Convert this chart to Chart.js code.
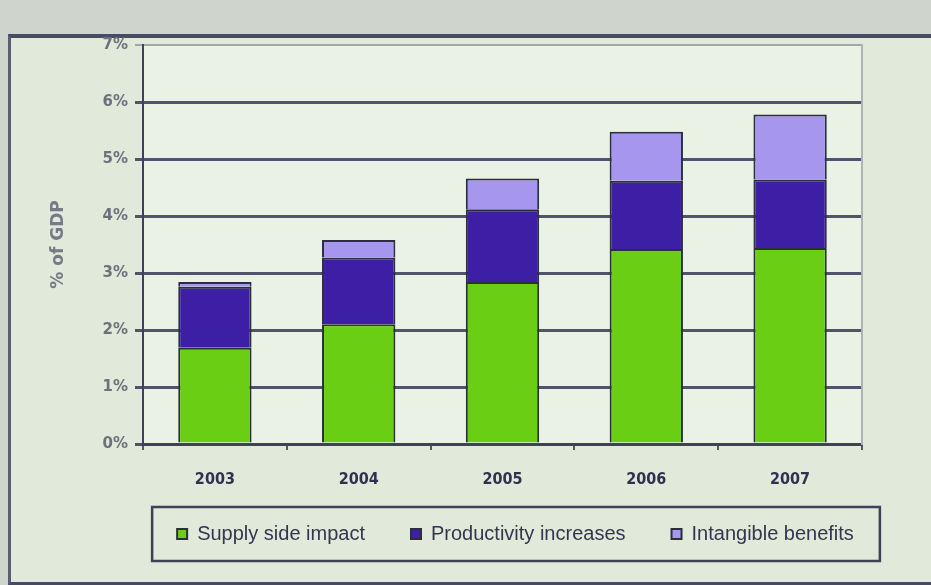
<!DOCTYPE html>
<html>
<head>
<meta charset="utf-8">
<script src="https://cdn.jsdelivr.net/npm/chart.js@4.4.1/dist/chart.umd.min.js"></script>
<style>
  html, body { margin: 0; padding: 0; }
  body { width: 931px; height: 585px; background: #cfd4cc; position: relative; overflow: hidden; }
  #frame { position: absolute; left: 8px; top: 34px; width: 940px; height: 544px;
           border-top: 4px solid #4b4a66; border-left: 3px solid #5a5c70; border-bottom: 3px solid #4b4a66;
           background: #e0e9da; }
  #wrap { position: absolute; left: 0; top: 0; width: 931px; height: 585px; }
</style>
</head>
<body>
<div id="frame"></div>
<div id="wrap"><canvas id="grafico" width="931" height="585"></canvas></div>
<script>
// datos (% del PIB)
const anios = ["2003", "2004", "2005", "2006", "2007"];
const supplySide = [1.69, 2.1, 2.84, 3.42, 3.44];
const productividad = [1.07, 1.17, 1.28, 1.2, 1.2];
const intangibles = [0.08, 0.31, 0.54, 0.86, 1.14];
const nombres = ["Supply side impact", "Productivity increases", "Intangible benefits"];
const ticksY = [0, 1, 2, 3, 4, 5, 6, 7];

const colores = ["#6acf14", "#3d1fa6", "#a796ee"];

// fondo del área de trazado y marco de la leyenda
const decoracion = {
  id: 'decoracion',
  beforeDraw(chart) {
    const { ctx, chartArea } = chart;
    // que las etiquetas del eje x no se recorten por la altura fija
    chart.scales.x._computeLabelArea = () => undefined;
    ctx.save();
    ctx.fillStyle = '#e9f2e4';
    ctx.fillRect(chartArea.left, chartArea.top, chartArea.right - chartArea.left, chartArea.bottom - chartArea.top);
    ctx.restore();
  },
  afterDraw(chart) {
    const cajas = chart.legend.legendHitBoxes;
    if (!cajas || !cajas.length) return;
    const izq = Math.min(...cajas.map(c => c.left)) - 25;
    const der = Math.max(...cajas.map(c => c.left + c.width)) + 26;
    const arr = Math.min(...cajas.map(c => c.top)) - 17;
    const abj = Math.max(...cajas.map(c => c.top + c.height)) + 17;
    const ctx = chart.ctx;
    ctx.save();
    ctx.strokeStyle = '#3e4158';
    ctx.lineWidth = 2.5;
    ctx.strokeRect(izq, arr, der - izq, abj - arr);
    ctx.restore();
  }
};

const ctx = document.getElementById('grafico').getContext('2d');
new Chart(ctx, {
  type: 'bar',
  data: {
    labels: anios,
    datasets: [supplySide, productividad, intangibles].map((serie, i) => ({
      label: nombres[i],
      data: serie,
      backgroundColor: colores[i],
      borderColor: '#2a2f3a',
      borderWidth: 2,
      barPercentage: 0.51,
      categoryPercentage: 1
    }))
  },
  options: {
    responsive: false,
    animation: false,
    devicePixelRatio: 1,
    layout: { padding: { left: 100, right: 0, top: 45, bottom: 31 } },
    scales: {
      x: {
        stacked: true,
        grid: { display: true, drawOnChartArea: false, tickLength: 6, color: '#55586c', lineWidth: 2 },
        border: { display: true, color: '#3e4158', width: 3 },
        ticks: { padding: 20, color: '#2f3150', font: { family: 'DejaVu Sans Condensed', size: 16, weight: 'bold' } },
        afterFit(scale) { scale.height = 34; }
      },
      y: {
        stacked: true,
        min: 0,
        max: 7,
        afterBuildTicks(scale) { scale.ticks = ticksY.map(v => ({ value: v })); },
        ticks: {
          padding: 7,
          color: '#6d717a',
          font: { family: 'DejaVu Sans', size: 15, weight: 'bold' },
          callback: v => v + '%'
        },
        grid: {
          tickLength: 8,
          color: c => c.tick && c.tick.value === 7 ? '#a3a6a6' : '#50536a',
          lineWidth: c => c.tick && c.tick.value === 7 ? 2 : 3
        },
        border: { display: true, color: '#3e4158', width: 2 },
        title: {
          display: true,
          text: '% of GDP',
          color: '#767a84',
          font: { family: 'DejaVu Sans', size: 17, weight: 'bold' },
          padding: { top: -52, bottom: 0 }
        },
        afterFit(scale) { scale.width = 43; }
      },
      y2: {
        position: 'right',
        min: 0,
        max: 7,
        grid: { drawOnChartArea: false, drawTicks: false },
        ticks: { display: false },
        border: { display: true, color: '#b0b3b2', width: 2 },
        afterFit(scale) { scale.width = 69; }
      }
    },
    plugins: {
      tooltip: { enabled: false },
      legend: {
        position: 'bottom',
        labels: {
          boxWidth: 10,
          boxHeight: 10,
          padding: 46,
          color: '#34364f',
          font: { family: 'Liberation Sans', size: 20 }
        }
      }
    }
  },
  plugins: [decoracion]
});
</script>
</body>
</html>
